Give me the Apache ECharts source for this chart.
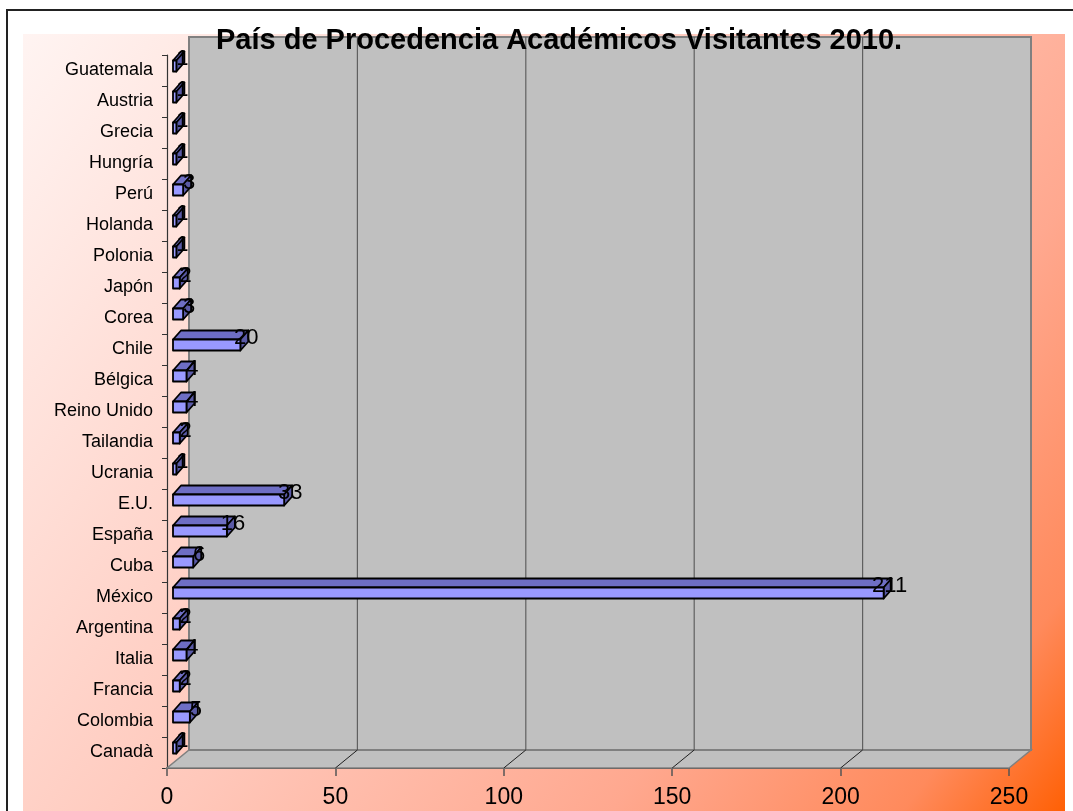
<!DOCTYPE html>
<html>
<head>
<meta charset="utf-8">
<title>País de Procedencia Académicos Visitantes 2010.</title>
<script src="https://cdn.jsdelivr.net/npm/echarts@6.0.0/dist/echarts.min.js"></script>
<style>
    html, body { margin: 0; padding: 0; background: #fff; }
    #main { width: 1073px; height: 811px; }
</style>
</head>
<body>
<div id="main"></div>
<script>
var categories = ['Canadà', 'Colombia', 'Francia', 'Italia', 'Argentina', 'México', 'Cuba', 'España', 'E.U.',
    'Ucrania', 'Tailandia', 'Reino Unido', 'Bélgica', 'Chile', 'Corea', 'Japón', 'Polonia', 'Holanda', 'Perú',
    'Hungría', 'Grecia', 'Austria', 'Guatemala'];
var values = [1, 5, 2, 4, 2, 211, 6, 16, 33, 1, 2, 4, 4, 20, 3, 2, 1, 1, 3, 1, 1, 1, 1];
var ticks = [0, 50, 100, 150, 200, 250];

var FONT = 'Liberation Sans, Arial, sans-serif';
// wall depth and bar depth (3d look)
var WALL_DX = 22, WALL_DY = -18;
var BAR_DX = 8, BAR_DY = -9;

function renderWalls(params, api) {
    var cs = params.coordSys;
    var x = cs.x, y = cs.y, w = cs.width, h = cs.height;
    var children = [];
    children.push({
        type: 'polygon',
        shape: {points: [[x, y + h], [x + w, y + h], [x + w + WALL_DX, y + h + WALL_DY], [x + WALL_DX, y + h + WALL_DY]]},
        style: {fill: '#c0c0c0', stroke: '#808080', lineWidth: 1.5}
    });
    children.push({
        type: 'rect',
        shape: {x: x + WALL_DX, y: y + WALL_DY, width: w, height: h},
        style: {fill: '#c0c0c0', stroke: '#808080', lineWidth: 2}
    });
    ticks.forEach(function (t, i) {
        var px = api.coord([t, 0])[0];
        if (i === 0 || i === ticks.length - 1) return;
        children.push({
            type: 'line',
            shape: {x1: px + WALL_DX, y1: y + WALL_DY, x2: px + WALL_DX, y2: y + h + WALL_DY},
            style: {stroke: '#606060', lineWidth: 1.2}
        });
        children.push({
            type: 'line',
            shape: {x1: px, y1: y + h, x2: px + WALL_DX, y2: y + h + WALL_DY},
            style: {stroke: '#202020', lineWidth: 1}
        });
    });
    return {type: 'group', children: children};
}

function renderBar(params, api) {
    var v = api.value(0);
    var p0 = api.coord([0, api.value(1)]);
    var p1 = api.coord([v, api.value(1)]);
    var cy = p0[1];
    var x0 = p0[0] + 6, x1 = p1[0] + 6;
    var top = cy - 10, bottom = cy + 1;
    var line = {stroke: '#000', lineWidth: 1.8, lineJoin: 'round'};
    return {
        type: 'group',
        children: [
            {
                type: 'polygon',
                shape: {points: [[x0, top], [x1, top], [x1 + BAR_DX, top + BAR_DY], [x0 + BAR_DX, top + BAR_DY]]},
                style: Object.assign({fill: '#6e6ec4'}, line)
            },
            {
                type: 'polygon',
                shape: {points: [[x1, top], [x1, bottom], [x1 + BAR_DX, bottom + BAR_DY], [x1 + BAR_DX, top + BAR_DY]]},
                style: Object.assign({fill: '#5a5aa6'}, line)
            },
            {
                type: 'rect',
                shape: {x: x0, y: top, width: x1 - x0, height: bottom - top},
                style: Object.assign({fill: '#9999ff'}, line)
            },
            {
                type: 'text',
                x: p1[0] + 12,
                y: cy - 12,
                style: {
                    text: String(v),
                    fontSize: 22,
                    fontFamily: FONT,
                    fill: '#000',
                    align: 'center',
                    verticalAlign: 'middle'
                }
            }
        ]
    };
}

var option = {
    animation: false,
    title: {
        text: 'País de Procedencia Académicos Visitantes 2010.',
        left: 216,
        top: 26,
        padding: 0,
        textStyle: {
            fontSize: 29,
            fontWeight: 'bold',
            fontFamily: FONT,
            color: '#000'
        }
    },
    graphic: [
        {
            type: 'rect',
            z: -10,
            silent: true,
            shape: {x: 7, y: 10, width: 1090, height: 830},
            style: {fill: '#fff', stroke: '#222', lineWidth: 2}
        },
        {
            type: 'rect',
            z: -9,
            silent: true,
            shape: {x: 23, y: 34, width: 1042, height: 777},
            style: {
                fill: new echarts.graphic.LinearGradient(0, 0, 1, 1, [
                    {offset: 0, color: '#fff4f2'},
                    {offset: 0.45, color: '#ffc8bb'},
                    {offset: 0.72, color: '#ffa88f'},
                    {offset: 0.9, color: '#ff8a5c'},
                    {offset: 1, color: '#ff6005'}
                ])
            }
        }
    ],
    grid: {
        left: 167,
        right: 64,
        top: 55,
        bottom: 43
    },
    xAxis: {
        type: 'value',
        min: 0,
        max: 250,
        interval: 50,
        axisLine: {show: true, lineStyle: {color: '#000', width: 1.5}},
        axisTick: {show: true, length: 8, lineStyle: {color: '#555', width: 1.5}},
        axisLabel: {fontSize: 23, fontFamily: FONT, color: '#000', margin: 18},
        splitLine: {show: false}
    },
    yAxis: {
        type: 'category',
        data: categories,
        boundaryGap: true,
        axisLine: {show: true, lineStyle: {color: '#333', width: 1.2}},
        axisTick: {show: true, length: 5, lineStyle: {color: '#333'}},
        axisLabel: {fontSize: 18, fontFamily: FONT, color: '#000', margin: 14, interval: 0},
        splitLine: {show: false}
    },
    series: [
        {
            type: 'custom',
            silent: true,
            z: 1,
            clip: false,
            renderItem: renderWalls,
            data: [[0, 0]]
        },
        {
            type: 'custom',
            z: 3,
            clip: false,
            renderItem: renderBar,
            encode: {x: 0, y: 1},
            data: values.map(function (v, i) { return [v, i]; })
        }
    ]
};

var myChart = echarts.init(document.getElementById('main'));
myChart.setOption(option);
</script>
</body>
</html>
